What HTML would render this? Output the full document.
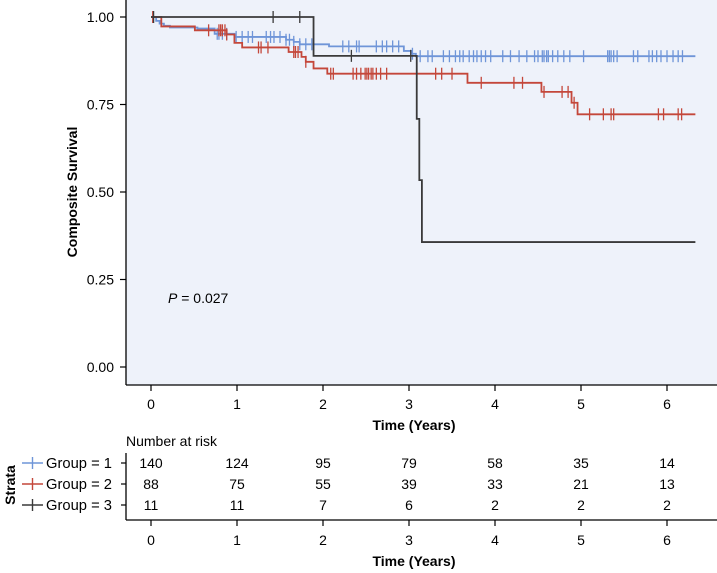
<!DOCTYPE html>
<html><head><meta charset="utf-8">
<style>
html,body{margin:0;padding:0;background:#fff;}
svg{display:block;font-family:"Liberation Sans",sans-serif;}
</style></head>
<body>
<svg id="chart" width="717" height="573" viewBox="0 0 717 573" xmlns="http://www.w3.org/2000/svg">
<rect x="126" y="0" width="591" height="385" fill="#eef2fa"/>
<line x1="126" y1="0" x2="126" y2="385" stroke="#000" stroke-width="1.3"/>
<line x1="126" y1="385" x2="717" y2="385" stroke="#000" stroke-width="1.3"/>
<g id="yticks"></g><g id="xticks"></g><g id="curves"></g>
<text transform="translate(77,192) rotate(-90)" text-anchor="middle" font-size="14" font-weight="bold">Composite Survival</text>
<text x="414" y="430" text-anchor="middle" font-size="14" font-weight="bold">Time (Years)</text>
<text x="168" y="303" font-size="14"><tspan font-style="italic">P</tspan> = 0.027</text>
<text x="126" y="446" font-size="14">Number at risk</text>
<text transform="translate(15,485) rotate(-90)" text-anchor="middle" font-size="14" font-weight="bold">Strata</text>
<line x1="126" y1="453" x2="126" y2="520" stroke="#000" stroke-width="1.3"/>
<line x1="126" y1="520" x2="717" y2="520" stroke="#000" stroke-width="1.3"/>
<g id="risk"></g>
<text x="414" y="566" text-anchor="middle" font-size="14" font-weight="bold">Time (Years)</text>
</svg>
<script>
const xTicks=[0,1,2,3,4,5,6];
const yTicks=[0,0.25,0.5,0.75,1.0];
const yTickLabels=["0.00","0.25","0.50","0.75","1.00"];
const groupNames=["Group = 1","Group = 2","Group = 3"];
const groupColors=["#6f95d8","#c4473a","#3a3a3a"];
const g1Times=[0,0.06,0.1,0.15,0.22,0.54,0.74,0.97,1.57,1.66,1.73,2.07,2.94,3.03,3.08];
const g1Surv=[1,0.989,0.981,0.975,0.97,0.967,0.952,0.943,0.935,0.929,0.922,0.916,0.903,0.895,0.888];
const g1Cens=[0.77,0.79,0.83,0.88,0.99,1.06,1.13,1.18,1.34,1.39,1.43,1.50,1.57,1.61,1.66,1.73,1.8,1.87,2.23,2.3,2.39,2.42,2.62,2.69,2.74,2.81,2.88,3.04,3.13,3.22,3.27,3.4,3.47,3.54,3.59,3.63,3.7,3.75,3.79,3.84,3.89,3.95,4.09,4.18,4.28,4.37,4.46,4.5,4.55,4.57,4.6,4.62,4.67,4.73,4.8,4.87,5.03,5.31,5.33,5.35,5.38,5.42,5.61,5.66,5.79,5.83,5.88,5.93,6.0,6.07,6.13,6.18];
const g2Times=[0,0.12,0.51,0.88,0.97,1.06,1.6,1.75,1.8,1.89,2.05,3.68,4.54,4.89,4.96];
const g2Surv=[1,0.973,0.962,0.95,0.926,0.913,0.9,0.886,0.872,0.853,0.838,0.812,0.786,0.755,0.722];
const g2Cens=[0.02,0.67,0.79,0.81,0.83,0.86,0.88,1.25,1.28,1.36,1.66,1.68,1.71,1.8,2.09,2.12,2.35,2.39,2.44,2.49,2.51,2.53,2.56,2.58,2.62,2.67,2.74,3.31,3.38,3.5,3.84,4.22,4.32,4.57,4.78,4.85,4.92,5.1,5.26,5.35,5.38,5.9,5.96,6.13,6.17];
const g3Times=[0,1.89,3.09,3.12,3.15];
const g3Surv=[1,0.889,0.709,0.534,0.357];
const g3Cens=[0.03,1.42,1.73,2.33,3.02];
const endTime=6.33;
const risk1=[140,124,95,79,58,35,14];
const risk2=[88,75,55,39,33,21,13];
const risk3=[11,11,7,6,2,2,2];

const NS="http://www.w3.org/2000/svg";
const xS=t=>151+t*86;
const yS=v=>367-v*350;
function mk(tag,attrs,parent,txt){const e=document.createElementNS(NS,tag);for(const k in attrs)e.setAttribute(k,attrs[k]);if(txt!==undefined)e.textContent=txt;parent.appendChild(e);return e;}
const yt=document.getElementById('yticks');
yTicks.forEach((v,i)=>{
  const l=mk('line',{x1:120,x2:126,y1:yS(v),y2:yS(v),stroke:'#000','stroke-width':1.2},yt);
  
  
  const t=mk('text',{x:114,y:yS(v)+5,'text-anchor':'end','font-size':14},yt,yTickLabels[i]);
  
  
});
const xt=document.getElementById('xticks');
xTicks.forEach(v=>{
  const l=mk('line',{x1:xS(v),x2:xS(v),y1:385,y2:391,stroke:'#000','stroke-width':1.2},xt);
  
  
  const t=mk('text',{x:xS(v),y:409,'text-anchor':'middle','font-size':14},xt,v);
  
  
  const l2=mk('line',{x1:xS(v),x2:xS(v),y1:520,y2:526,stroke:'#000','stroke-width':1.2},xt);
  
  
  const t2=mk('text',{x:xS(v),y:545,'text-anchor':'middle','font-size':14},xt,v);
  
  
});
function survAt(times,surv,t){let s=surv[0];for(let i=0;i<times.length;i++){if(times[i]<=t)s=surv[i];}return s;}
const cg=document.getElementById('curves');
[[g1Times,g1Surv,g1Cens],[g2Times,g2Surv,g2Cens],[g3Times,g3Surv,g3Cens]].forEach((d,gi)=>{
  const [T,S,C]=d;
  let p='M'+xS(T[0])+','+yS(S[0]);
  for(let i=1;i<T.length;i++){p+=' H'+xS(T[i])+' V'+yS(S[i]);}
  p+=' H'+xS(endTime);
  const path=mk('path',{d:p,fill:'none',stroke:groupColors[gi],'stroke-width':1.8},cg);
  
  
  C.forEach(t=>{
    const y=yS(survAt(T,S,t));
    const c=mk('line',{x1:xS(t),x2:xS(t),y1:y-6,y2:y+6,stroke:groupColors[gi],'stroke-width':1.3},cg);
    
    
  });
});
const rg=document.getElementById('risk');
[risk1,risk2,risk3].forEach((row,gi)=>{
  const y=468+gi*21;
  const ln=mk('line',{x1:22,x2:43,y1:y-5,y2:y-5,stroke:groupColors[gi],'stroke-width':1.6},rg);
  
  
  const lv=mk('line',{x1:32.5,x2:32.5,y1:y-11,y2:y+1,stroke:groupColors[gi],'stroke-width':1.4},rg);
  
  
  const lb=mk('text',{x:46,y:y,'font-size':15,textLength:66,lengthAdjust:'spacingAndGlyphs'},rg,groupNames[gi]);
  
  
  const tk=mk('line',{x1:121,x2:126,y1:y-5,y2:y-5,stroke:'#000','stroke-width':1.2},rg);
  
  
  row.forEach((n,i)=>{
    const t=mk('text',{x:xS(xTicks[i]),y:y,'text-anchor':'middle','font-size':14},rg,n);
    
    
  });
});
</script>
</body></html>
